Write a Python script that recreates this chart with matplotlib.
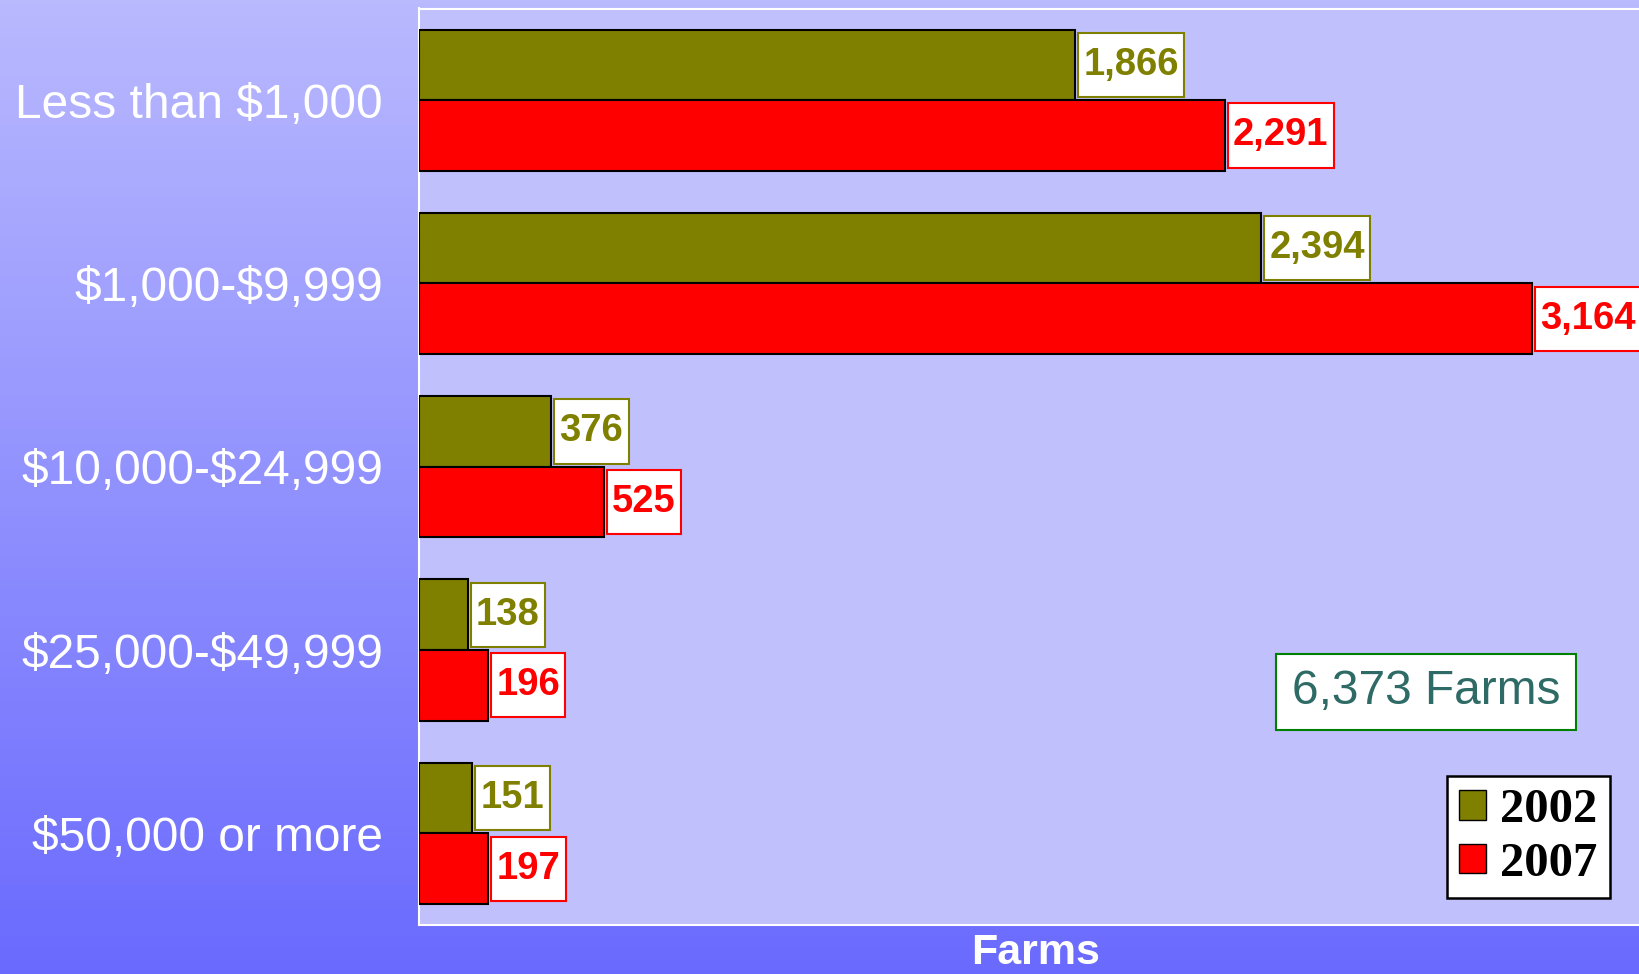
import numpy as np
import matplotlib
matplotlib.use("Agg")
import matplotlib.pyplot as plt
from matplotlib.patches import Patch
from matplotlib.path import Path

plt.rcParams["text.parse_math"] = False
plt.rcParams["hatch.color"] = "#AEAEE0"
plt.rcParams["hatch.linewidth"] = 0.6

categories = ["Less than $1,000", "$1,000-$9,999", "$10,000-$24,999",
              "$25,000-$49,999", "$50,000 or more"]
years = ["2002", "2007"]
values_2002 = [1866, 2394, 376, 138, 151]
values_2007 = [2291, 3164, 525, 196, 197]
total_label = "6,373 Farms"
x_label = "Farms"

c2002 = "#808000"
c2007 = "#FF0000"

W, H = 1640, 974
fig = plt.figure(figsize=(W / 100, H / 100), dpi=100)

# background gradient
bg = fig.add_axes([0, 0, 1, 1], zorder=-10)
t = np.linspace(0, 1, 256)[:, None]
top = np.array([185, 185, 254]) / 255
bot = np.array([106, 106, 255]) / 255
grad = top[None, None, :] * (1 - t[:, :, None]) + bot[None, None, :] * t[:, :, None]
bg.imshow(grad, aspect="auto", extent=[0, 1, 0, 1])
bg.axis("off")

ax = fig.add_axes([419 / W, 1 - 925 / H, 1 - 419 / W + 0.01, (925 - 8.5) / H])
ax.set_facecolor("#C0C0FC")
ax.patch.set_hatch("..")
ax.set_xlim(0, 3472 * (1 - 419 / W + 0.01) / (1 - 419 / W))
ax.set_ylim(len(categories) - 0.5, -0.5)

y = np.arange(len(categories))
h = 0.385
ax.barh(y - h / 2, values_2002, height=h, color=c2002, edgecolor="black", linewidth=1.5, zorder=3)
ax.barh(y + h / 2, values_2007, height=h, color=c2007, edgecolor="black", linewidth=1.5, zorder=3)


def tall_box(x0, y0, width, height, mutation_size):
    px = 0.14 * mutation_size
    py = 0.37 * mutation_size
    x0, y0 = x0 - px, y0 - py
    x1, y1 = x0 + width + 2 * px, y0 + height + 2 * py
    return Path([(x0, y0), (x1, y0), (x1, y1), (x0, y1), (x0, y0)], closed=True)


lab_font = dict(family=["Liberation Sans", "DejaVu Sans"], fontweight="bold", fontsize=27.5)
for vals, off, col in [(values_2002, -h / 2, c2002), (values_2007, h / 2, c2007)]:
    for yi, v in zip(y, vals):
        ax.annotate(f"{v:,}", xy=(v, yi + off), xytext=(6, 0), textcoords="offset points",
                    ha="left", va="center", color=col, zorder=5,
                    bbox=dict(boxstyle=tall_box, fc="white", ec=col, lw=1.5),
                    **lab_font)

ax.set_yticks(y)
ax.set_yticklabels(categories, fontsize=34.5, color="white",
                   family=["Liberation Sans", "DejaVu Sans"])
ax.tick_params(axis="y", length=0, pad=26)
ax.set_xticks([])
for s in ax.spines.values():
    s.set_color("white")
    s.set_linewidth(1.5)

fig.text(1036 / W, 1 - 964 / H, x_label, ha="center", va="baseline", color="white",
         fontsize=31, fontweight="bold", family=["Liberation Sans", "DejaVu Sans"])

fig.text(1426 / W, 1 - 692 / H, total_label, ha="center", va="center", color="#2F6B66",
         fontsize=34.5, family=["Liberation Sans", "DejaVu Sans"],
         bbox=dict(boxstyle="square,pad=0.33", fc="white", ec="#008000", lw=1.5))

handles = [Patch(facecolor=c2002, edgecolor="black", label=years[0]),
           Patch(facecolor=c2007, edgecolor="black", label=years[1])]
leg = fig.legend(handles=handles, loc="lower right", bbox_to_anchor=(1610 / W, 1 - 898 / H),
                 bbox_transform=fig.transFigure, borderaxespad=0, fancybox=False,
                 edgecolor="black", framealpha=1, handlelength=0.55, handleheight=0.55,
                 handletextpad=0.3, labelspacing=0.2, borderpad=0.25,
                 prop=dict(family=["Liberation Serif", "DejaVu Serif"], weight="bold", size=35))
leg.get_frame().set_linewidth(1.8)

fig.savefig("out.png", dpi=100)
